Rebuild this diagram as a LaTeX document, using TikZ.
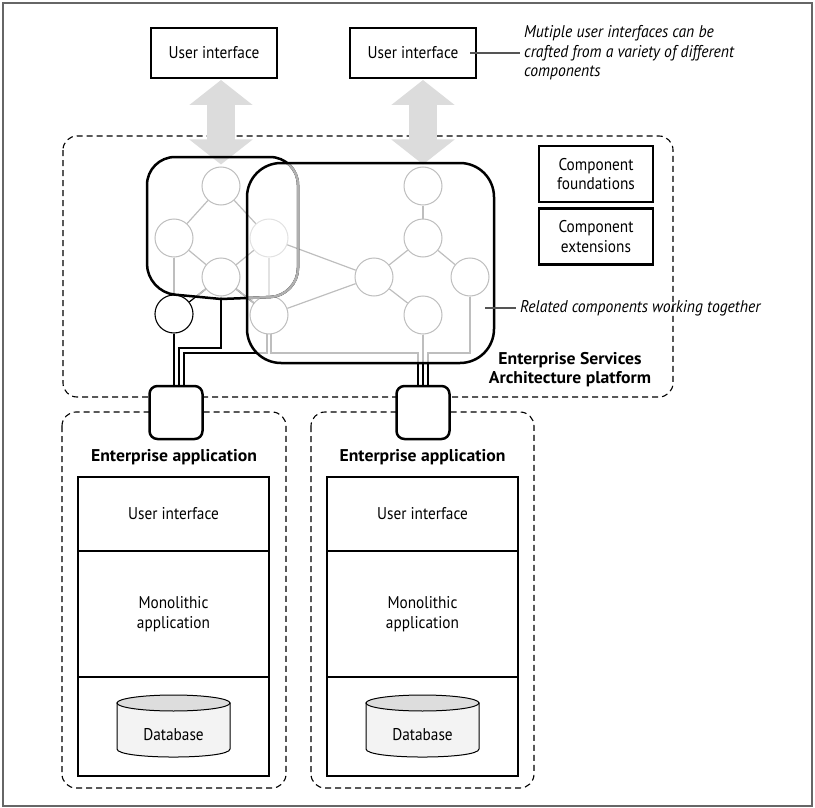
\documentclass[tikz,border=0pt]{standalone}
\usepackage{fontspec}
\setmainfont[FakeStretch=0.9,
  BoldFeatures={FakeStretch=1.04},
  ItalicFeatures={FakeStretch=0.92}]{PT Sans}
\usetikzlibrary{arrows.meta,calc}

\definecolor{netgray}{HTML}{BEBEBE}
\definecolor{faintgray}{HTML}{E2E2E2}
\definecolor{arrowgray}{HTML}{DCDCDC}
\definecolor{leadgray}{HTML}{555555}
\definecolor{framegray}{HTML}{666666}
\definecolor{overgray}{HTML}{B0B0B0}
\definecolor{dbtop}{HTML}{DDDDDD}
\definecolor{dbbody}{HTML}{F3F3F3}

% connectors that leave the component groups: black outside, gray inside
\newcommand\drawlinks[1]{%
  \draw[#1] (left1) -- (ext);
  \draw[#1] (bot1) -- (ext);
  \draw[#1] (bot1) -- (bl);
  \draw[#1] (ext.south) -- (ext.south |- lbx.north);
  \draw[#1] (bot1.south) |- (b1) -- (b1 |- lbx.north);
  \draw[#1] (bl.-96) |- (c1) -- (c1 |- lbx.north);
  \draw[#1] (bl.-84) |- (d1) -- (d1 |- rbx.north);
  \draw[#1] (low2.south) -- (low2.south |- rbx.north);
  \draw[#1] (rt2.south) |- (f1) -- (f1 |- rbx.north);
}

% one database cylinder centred on x = #1
\newcommand\dbdrum[1]{%
  \begin{scope}[shift={(#1,0)}]
    \draw[line width=1pt, fill=dbbody] (-56.5,703) -- (-56.5,749)
      .. controls (-56.5,759.7) and (56.5,759.7) .. (56.5,749) -- (56.5,703) -- cycle;
    \draw[line width=1pt, fill=dbtop] (0,703) ellipse [x radius=56.5pt, y radius=8pt];
  \end{scope}
}

\begin{document}
\begin{tikzpicture}[x=1pt, y=-1pt,
  font=\fontsize{17}{19.5}\selectfont,
  thickbox/.style={draw=black, line width=2.5pt, fill=white, inner sep=0pt,
    outer sep=0pt, align=center},
  uibox/.style={thickbox, minimum width=126pt, minimum height=50pt},
  compbox/.style={thickbox, minimum width=114pt, minimum height=56pt},
  layerbox/.style={thickbox, minimum width=191pt},
  portbox/.style={thickbox, rounded corners=8pt, minimum width=53pt, minimum height=53pt},
  compnode/.style={circle, draw=netgray, line width=1pt, fill=white,
    minimum size=38pt, inner sep=0pt},
  faintnode/.style={compnode, draw=faintgray},
  extnode/.style={compnode, draw=black, line width=1.1pt},
  netline/.style={draw=netgray, line width=1.2pt},
  blkline/.style={draw=black, line width=1.2pt},
  graycover/.style={draw=netgray, line width=1.7pt},
  leader/.style={draw=leadgray, line width=1.1pt},
  dashbox/.style={draw=black, line width=1.1pt, dash pattern=on 6pt off 4pt,
    rounded corners=14pt},
  groupline/.style={draw=black, line width=2.5pt, line join=round},
  bigarrow/.style={draw=arrowgray, line width=28pt,
    {Triangle[length=25pt,width=62pt]}-{Triangle[length=25pt,width=62pt]}},
  heading/.style={font=\fontsize{17}{19.5}\selectfont\bfseries, align=center, inner sep=0pt},
  remark/.style={font=\fontsize{17}{19.5}\selectfont\itshape, align=left,
    inner xsep=4pt, inner ysep=0pt, anchor=west},
  plain/.style={align=center, inner sep=0pt}
]
\useasboundingbox (0,0) rectangle (815,808);

% outer frame
\draw[framegray, line width=1.3pt] (3,3) rectangle (812,806);

% platform and application containers
\draw[dashbox] (63,136) rectangle (673,397);
\draw[dashbox] (62,412) rectangle (286,788);
\draw[dashbox] (311,412) rectangle (534,788);

\node[heading] (esaname) at (570,369.5) {Enterprise Services\\Architecture platform};
\node[heading] (app1name) at (174,457) {Enterprise application};
\node[heading] (app2name) at (422.5,457) {Enterprise application};

% user interfaces on top
\node[uibox] (ui1) at (214,53) {User interface};
\node[uibox] (ui2) at (413,53) {User interface};
\node[remark] (note1) at (520,53) {Mutiple user interfaces can be\\crafted from a variety of different\\components};
\draw[leader] ($(ui2.east)+(-6,0)$) -- (note1.west);

% legend boxes
\node[compbox] (cf) at (596,174) {Component\\foundations};
\node[compbox] (ce) at (596,236.5) {Component\\extensions};

% components
\node[compnode] (top1) at (221,186) {};
\node[compnode] (left1) at (174,238) {};
\node[compnode] (bot1) at (221,277) {};
\node[faintnode] (ov) at (269,238) {};
\node[compnode] (bl) at (269,315) {};
\node[compnode] (top2) at (423,186) {};
\node[compnode] (sec2) at (423,238) {};
\node[compnode] (mid2) at (374,277) {};
\node[compnode] (rt2) at (470,277) {};
\node[compnode] (low2) at (423,315) {};
\node[extnode] (ext) at (174,314) {};

% wide two-way arrows between interfaces and components
\draw[bigarrow] ($(ui1.south -| top1)+(0,2)$) -- ($(top1.north)+(0,-2)$);
\draw[bigarrow] ($(ui2.south -| top2)+(0,2)$) -- ($(top2.north)+(0,-2)$);

% links inside the groups
\draw[netline] (top1) -- (left1);
\draw[netline] (top1) -- (ov);
\draw[netline] (left1) -- (bot1);
\draw[netline] (bot1) -- (ov);
\draw[netline, draw=faintgray] (ov) -- (bl);
\draw[netline] (ov) -- (mid2);
\draw[netline] (bl) -- (mid2);
\draw[netline] (top2) -- (sec2);
\draw[netline] (sec2) -- (mid2);
\draw[netline] (sec2) -- (rt2);
\draw[netline] (mid2) -- (low2);

% ports into the enterprise applications
\node[portbox] (lbx) at (176,412.5) {};
\node[portbox] (rbx) at (423,412.5) {};

\coordinate (b1) at (179,348);
\coordinate (c1) at (184,353);
\coordinate (d1) at (418,353);
\coordinate (f1) at (428,353);

\drawlinks{blkline}
\begin{scope}
  \clip[rounded corners=28pt] (221,299) -- (147,292) -- (147,157) -- (298,157) -- (298,296) -- (221,299);
  \drawlinks{graycover}
\end{scope}
\begin{scope}
  \clip[rounded corners=34pt] (247,163) rectangle (494,363);
  \drawlinks{graycover}
\end{scope}

% component groups
\draw[groupline, rounded corners=28pt] (221,299) -- (147,292) -- (147,157) -- (298,157) -- (298,296) -- (221,299);
\begin{scope}
  \clip[rounded corners=34pt] (247,163) rectangle (494,363);
  \draw[groupline, draw=overgray, rounded corners=28pt] (221,299) -- (147,292) -- (147,157) -- (298,157) -- (298,296) -- (221,299);
\end{scope}
\draw[groupline, rounded corners=34pt] (247,163) rectangle (494,363);

\node[remark] (rel) at (516,308) {Related components working together};
\coordinate (relfoot) at (485,308);
\draw[leader] (relfoot) -- (rel.west);

% enterprise application stacks
\node[layerbox, minimum height=74pt] (ui3) at (173.5,514) {User interface};
\node[layerbox, minimum height=126pt] (mono1) at (173.5,614) {Monolithic\\application};
\node[layerbox, minimum height=99pt] (dbs1) at (173.5,726.5) {};
\dbdrum{173.5}
\node[plain] (db1) at (173.5,735) {Database};

\node[layerbox, minimum height=74pt] (ui4) at (422.5,514) {User interface};
\node[layerbox, minimum height=126pt] (mono2) at (422.5,614) {Monolithic\\application};
\node[layerbox, minimum height=99pt] (dbs2) at (422.5,726.5) {};
\dbdrum{422.5}
\node[plain] (db2) at (422.5,735) {Database};

\end{tikzpicture}
\end{document}
